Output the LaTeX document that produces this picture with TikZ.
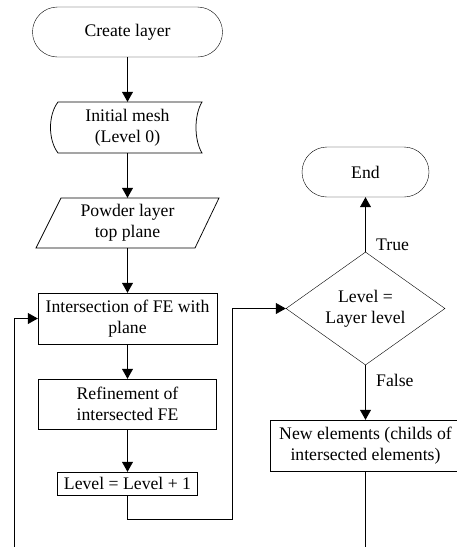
\documentclass[tikz,border=0pt]{standalone}
\usepackage{fontspec}
\setmainfont{Liberation Serif}
\usetikzlibrary{shapes.geometric,arrows.meta,calc}

\tikzset{
  base/.style={font=\fontsize{17.7}{21}\selectfont, align=center, inner sep=0pt},
  terminal/.style={base, draw, rectangle, rounded corners=25pt, minimum height=50pt},
  procbox/.style={base, draw, rectangle, minimum height=51pt},
  textonly/.style={base},
  decision/.style={base, draw, diamond, aspect=1.4, minimum width=159pt, minimum height=113pt},
  flow/.style={line width=0.75pt, -{Triangle[length=10pt,width=11pt]}},
  plain/.style={line width=0.75pt},
  outline/.style={line width=0.75pt},
}

\begin{document}
\begin{tikzpicture}[x=1pt, y=-1pt]
  \clip (0,0) rectangle (457,547);
  \fill[white] (0,0) rectangle (457,547);

  % left column
  \node[terminal, minimum width=190pt] (create) at (127.5,32) {Create layer};

  \node[textonly, minimum width=150pt, minimum height=51pt] (mesh) at (127.5,127.5) {Initial mesh\\(Level 0)};
  \draw[outline] ([shift={(-69.5,-25.5)}]mesh.center) -- ([shift={(74.5,-25.5)}]mesh.center)
    .. controls ([shift={(66.5,-12.5)}]mesh.center) and ([shift={(66.5,12.5)}]mesh.center) .. ([shift={(74.5,25.5)}]mesh.center)
    -- ([shift={(-69.5,25.5)}]mesh.center)
    .. controls ([shift={(-79.5,12.5)}]mesh.center) and ([shift={(-79.5,-12.5)}]mesh.center) .. cycle;

  \node[textonly, minimum width=160pt, minimum height=50pt] (powder) at (127.5,223) {Powder layer\\top plane};
  \draw[outline] ([shift={(-66.5,-25)}]powder.center) -- ([shift={(91.5,-25)}]powder.center)
    -- ([shift={(67.5,25)}]powder.center) -- ([shift={(-91.5,25)}]powder.center) -- cycle;

  \node[procbox, minimum width=179pt] (inter) at (127.5,318.5) {Intersection of FE with\\plane};
  \node[procbox, minimum width=178pt, minimum height=50pt] (refine) at (127.5,404) {Refinement of\\intersected FE};
  \node[procbox, minimum width=140pt, minimum height=23pt] (lvl) at (127.5,483.5) {Level = Level + 1};

  % right column
  \node[terminal, minimum width=127pt] (end) at (365.5,172) {End};
  \node[decision] (dec) at (365.5,308.5) {Level =\\Layer level};
  \node[procbox, minimum width=191pt] (newel) at (365.5,445.5) {New elements (childs of\\intersected elements)};

  \node[textonly, anchor=west] (truelbl) at (376,245) {True};
  \node[textonly, anchor=west] (falselbl) at (376,380) {False};

  % connectors
  \draw[flow] (create) -- (mesh);
  \draw[flow] (mesh) -- (powder);
  \draw[flow] (powder) -- (inter);
  \draw[flow] (inter) -- (refine);
  \draw[flow] (refine) -- (lvl);

  \coordinate (bend) at (232,519);
  \draw[flow] (lvl.south) |- (bend) |- (dec.west);

  \draw[flow] (dec.north) -- (end.south);
  \draw[flow] (dec.south) -- (newel.north);

  \coordinate (newelout) at (365.5,552);
  \draw[plain] (newel.south) -- (newelout);

  \coordinate (loopin) at (14,552);
  \draw[flow] (loopin) |- (inter.west);
\end{tikzpicture}
\end{document}
